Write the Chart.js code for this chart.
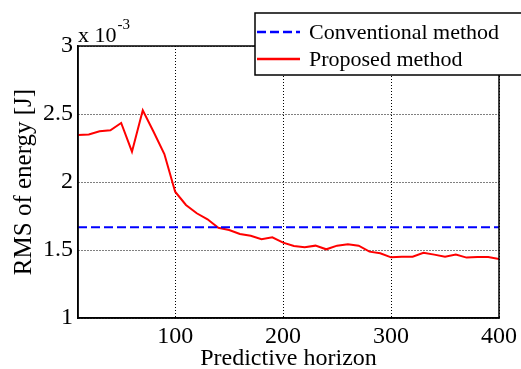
<!DOCTYPE html>
<html>
<head>
<meta charset="utf-8">
<script src="https://cdn.jsdelivr.net/npm/chart.js@4"></script>
<style>
  html, body { margin: 0; padding: 0; background: #fff; }
  #wrap { width: 521px; height: 369px; }
</style>
</head>
<body>
<div id="wrap"><canvas id="rmsChart" width="521" height="369"></canvas></div>
<script>
const horizon = [10, 20, 30, 40, 50, 60, 70, 80, 90, 100,
    110, 120, 130, 140, 150, 160, 170, 180, 190, 200,
    210, 220, 230, 240, 250, 260, 270, 280, 290, 300,
    310, 320, 330, 340, 350, 360, 370, 380, 390, 400];
const proposed = [2.346, 2.35, 2.373, 2.38, 2.434, 2.223, 2.527, 2.37, 2.206, 1.929,
    1.831, 1.77, 1.726, 1.664, 1.647, 1.618, 1.605, 1.58, 1.593, 1.554,
    1.529, 1.52, 1.532, 1.505, 1.532, 1.542, 1.532, 1.488, 1.476, 1.446,
    1.451, 1.451, 1.48, 1.466, 1.451, 1.466, 1.444, 1.449, 1.449, 1.434];
const conventional = 1.667;
const xTicks = [100, 200, 300, 400];
const yTicks = [1, 1.5, 2, 2.5, 3];

const serif = "'Liberation Serif', 'Times New Roman', serif";

// frame, exponent label and boxed legend
const extras = {
    id: 'extras',
    afterDraw(chart) {
        const ctx = chart.ctx;
        const a = chart.chartArea;
        ctx.save();
        ctx.strokeStyle = '#000';
        ctx.lineWidth = 1.5;
        ctx.strokeRect(a.left, a.top, a.right - a.left, a.bottom - a.top);

        ctx.fillStyle = '#000';
        ctx.textBaseline = 'alphabetic';
        ctx.textAlign = 'left';
        ctx.font = '22px ' + serif;
        ctx.fillText('x 10', a.left, 42);
        const w = ctx.measureText('x 10').width;
        ctx.font = '15px ' + serif;
        ctx.fillText('-3', a.left + w + 1, 29);

        const lx = 255, ly = 13, lw = 280, lh = 62;
        ctx.fillStyle = '#fff';
        ctx.fillRect(lx, ly, lw, lh);
        ctx.lineWidth = 1.5;
        ctx.strokeStyle = '#000';
        ctx.strokeRect(lx, ly, lw, lh);
        ctx.font = '22px ' + serif;
        ctx.textBaseline = 'middle';
        chart.data.datasets.forEach((ds, i) => {
            const y = ly + 19 + i * 27;
            ctx.beginPath();
            ctx.strokeStyle = ds.borderColor;
            ctx.lineWidth = 2.5;
            ctx.setLineDash(ds.borderDash || []);
            ctx.moveTo(lx + 2, y);
            ctx.lineTo(lx + 45, y);
            ctx.stroke();
            ctx.setLineDash([]);
            ctx.fillStyle = '#000';
            ctx.fillText(ds.label, lx + 54, y + 1);
        });
        ctx.restore();
    }
};

const ctx = document.getElementById('rmsChart').getContext('2d');
const rmsChart = new Chart(ctx, {
    type: 'line',
    data: {
        datasets: [{
            label: 'Conventional method',
            data: [{x: horizon[0], y: conventional}, {x: horizon[horizon.length - 1], y: conventional}],
            borderColor: '#0000ff',
            borderWidth: 2,
            borderDash: [9, 4],
            pointRadius: 0
        }, {
            label: 'Proposed method',
            data: horizon.map((h, i) => ({x: h, y: proposed[i]})),
            borderColor: '#ff0000',
            borderWidth: 2,
            pointRadius: 0,
            tension: 0
        }]
    },
    options: {
        responsive: false,
        animation: false,
        layout: {
            padding: {left: 0, right: 19, top: 46, bottom: 0}
        },
        plugins: {
            legend: {display: false},
            tooltip: {enabled: false}
        },
        scales: {
            x: {
                type: 'linear',
                min: 10,
                max: 400,
                afterBuildTicks: scale => { scale.ticks = xTicks.map(v => ({value: v})); },
                afterFit: scale => { scale.height = 51; },
                grid: {color: '#000', lineWidth: 1, drawTicks: false},
                border: {display: true, color: '#000', width: 1.5, dash: [1, 2]},
                ticks: {color: '#000', font: {family: serif, size: 24}, padding: 4, maxRotation: 0},
                title: {
                    display: true,
                    text: 'Predictive horizon',
                    color: '#000',
                    font: {family: serif, size: 24, lineHeight: 1.2},
                    padding: {top: 0, bottom: -4}
                }
            },
            y: {
                min: 1,
                max: 3,
                afterBuildTicks: scale => { scale.ticks = yTicks.map(v => ({value: v})); },
                afterFit: scale => { scale.width = 78; },
                grid: {color: '#000', lineWidth: 1, drawTicks: false},
                border: {display: true, color: '#000', width: 1.5, dash: [1, 2]},
                ticks: {
                    color: '#000',
                    font: {family: serif, size: 24},
                    padding: 5,
                    callback: v => String(v)
                },
                title: {
                    display: true,
                    text: 'RMS of energy [J]',
                    color: '#000',
                    font: {family: serif, size: 25, lineHeight: 1.2},
                    padding: {top: 9, bottom: 0}
                }
            }
        }
    },
    plugins: [extras]
});
</script>
</body>
</html>
